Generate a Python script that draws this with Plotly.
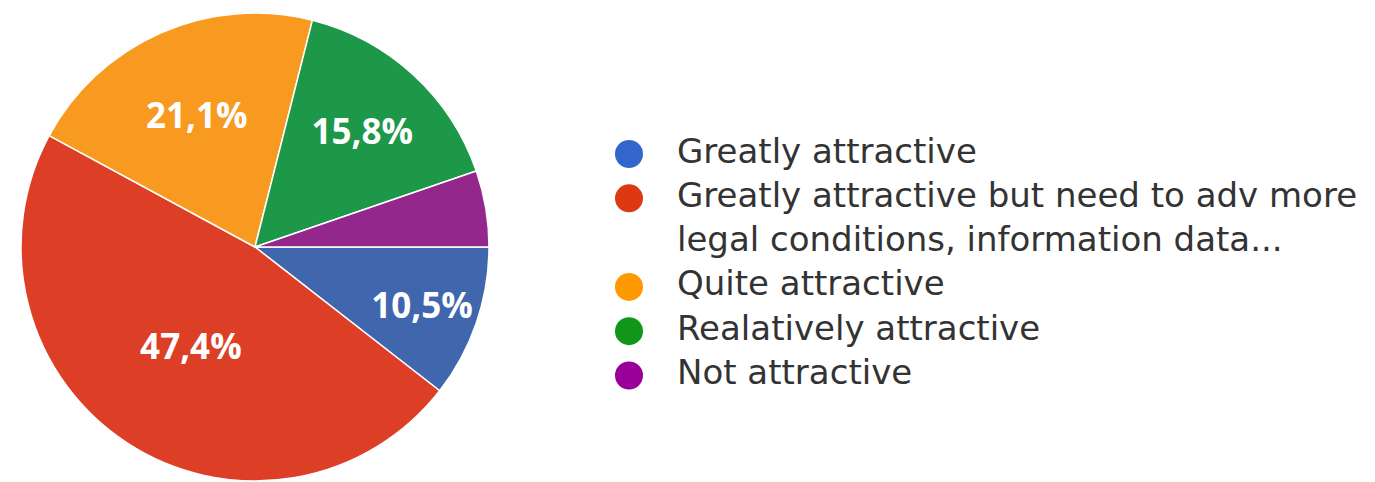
import plotly.graph_objects as go

# ---- data ----
categories = [
    "Greatly attractive",
    "Greatly attractive but need to adv more<br>legal conditions, information data...",
    "Quite attractive",
    "Realatively attractive",
    "Not attractive",
]
responses = [2, 9, 4, 3, 1]
slice_colors = ["#4066AE", "#DC3E26", "#F89A20", "#1D9748", "#93278C"]
legend_colors = ["#3366CC", "#DC3912", "#FF9900", "#109618", "#990099"]
label_threshold = 0.06

W, H = 1375, 482
OFF = 8  # page body margin compensation
total = sum(responses)
texttemplates = ["%{percent:.1%}" if v / total >= label_threshold else "" for v in responses]

# pie geometry (pixels)
cx, cy, R = 255 - OFF, 247 - OFF, 234

fig = go.Figure()
fig.add_trace(go.Pie(
    labels=[c.replace("<br>", " ") for c in categories],
    values=responses,
    sort=False,
    direction="clockwise",
    rotation=90,
    marker=dict(colors=slice_colors, line=dict(color="white", width=1.5)),
    texttemplate=texttemplates,
    textposition="inside",
    insidetextorientation="horizontal",
    textfont=dict(family="Open Sans", size=35, color="white", weight="bold"),
    hoverinfo="label+percent",
    showlegend=False,
    domain=dict(x=[(cx - R) / W, (cx + R) / W], y=[1 - (cy + R) / H, 1 - (cy - R) / H]),
))

# ---- custom legend drawn as scatter on its own axes ----
line_texts, line_idx, marker_idx = [], [], []
i = 0
for c in categories:
    marker_idx.append(i)
    for part in c.split("<br>"):
        line_texts.append(part)
        line_idx.append(i)
        i += 1

row_h = 44.3               # px per legend line
first_row_px = 154 - OFF   # px from top of first row
marker_px_x = 629 - OFF    # px of marker centres
text_gap = 48              # px between marker centre and text

fig.add_trace(go.Scatter(
    x=[0] * len(marker_idx), y=[-k for k in marker_idx],
    mode="markers",
    marker=dict(size=28, color=legend_colors, symbol="circle"),
    xaxis="x2", yaxis="y2", showlegend=False, hoverinfo="skip",
))
fig.add_trace(go.Scatter(
    x=[text_gap] * len(line_texts), y=[-k for k in line_idx],
    mode="text", text=line_texts, textposition="middle right",
    textfont=dict(family="DejaVu Sans", size=34, color="#333333"),
    xaxis="x2", yaxis="y2", showlegend=False, hoverinfo="skip",
))

ytop = first_row_px / row_h
yspan = H / row_h
fig.update_layout(
    width=W, height=H,
    margin=dict(l=0, r=0, t=0, b=0),
    paper_bgcolor="white", plot_bgcolor="rgba(0,0,0,0)",
    separators=",.",
    xaxis2=dict(domain=[0, 1], range=[-marker_px_x, W - marker_px_x], visible=False, fixedrange=True),
    yaxis2=dict(domain=[0, 1], range=[ytop - yspan, ytop], visible=False, fixedrange=True),
)

fig.write_html("out.html")
